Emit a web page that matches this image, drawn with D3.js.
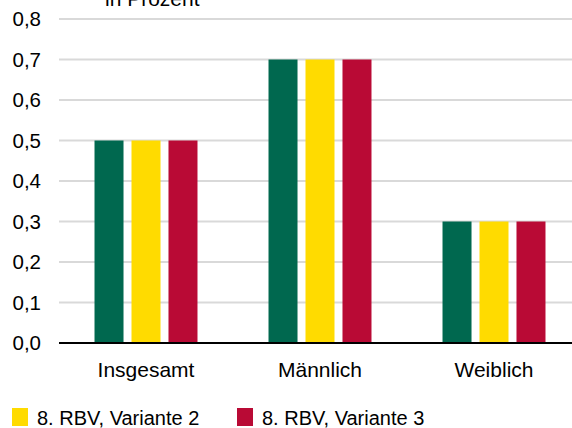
<!DOCTYPE html>
<html>
<head>
<meta charset="utf-8">
<script src="https://cdn.jsdelivr.net/npm/d3@7"></script>
<style>
  html, body { margin: 0; padding: 0; background: #fff; }
  svg { display: block; font-family: "Liberation Sans", Arial, sans-serif; }
</style>
</head>
<body>
<svg id="chart"></svg>
<script>
// data
var categories = ["Insgesamt", "Männlich", "Weiblich"];
var seriesNames = ["8. RBV, Variante 1", "8. RBV, Variante 2", "8. RBV, Variante 3"];
var seriesColors = ["#00684f", "#ffdb00", "#b90a35"];
var values = [
  [0.5, 0.7, 0.3],   // Variante 1
  [0.5, 0.7, 0.3],   // Variante 2
  [0.5, 0.7, 0.3]    // Variante 3
];
var yTicks = [0, 0.1, 0.2, 0.3, 0.4, 0.5, 0.6, 0.7, 0.8];
var legendShown = [1, 2];  // only these fit on the visible line

var width = 572, height = 428;
var svg = d3.select("#chart").attr("width", width).attr("height", height);

var x = d3.scaleBand().domain(categories).range([59, 581]).padding(0);
var xSub = d3.scaleBand().domain(seriesNames).range([0, x.bandwidth()])
    .paddingInner(0.216).paddingOuter(0.96);
var y = d3.scaleLinear().domain([0, 0.8]).range([343, 19]);

var fmt = function(d) { return d3.format(".1f")(d).replace(".", ","); };

// title (cut off at top)
svg.append("text")
    .attr("x", 105).attr("y", 6)
    .attr("font-size", "21px")
    .attr("fill", "#000")
    .text("in Prozent");

// gridlines
svg.append("g").selectAll("line")
    .data(yTicks.filter(function(d) { return d > 0; }))
    .join("line")
    .attr("x1", 59).attr("x2", width)
    .attr("y1", function(d) { return y(d); })
    .attr("y2", function(d) { return y(d); })
    .attr("stroke", "#d9d9d9")
    .attr("stroke-width", 2);

// y tick labels
svg.append("g").selectAll("text")
    .data(yTicks)
    .join("text")
    .attr("x", 41)
    .attr("y", function(d) { return y(d); })
    .attr("dy", "0.35em")
    .attr("text-anchor", "end")
    .attr("font-size", "20.5px")
    .attr("fill", "#000")
    .text(fmt);

// bars
var groups = svg.append("g").selectAll("g")
    .data(categories)
    .join("g")
    .attr("transform", function(c) { return "translate(" + x(c) + ",0)"; });

groups.selectAll("rect")
    .data(function(c, ci) {
      return seriesNames.map(function(s, si) { return { s: s, si: si, v: values[si][ci] }; });
    })
    .join("rect")
    .attr("x", function(d) { return xSub(d.s); })
    .attr("width", xSub.bandwidth())
    .attr("y", function(d) { return y(d.v); })
    .attr("height", function(d) { return y(0) - y(d.v); })
    .attr("fill", function(d) { return seriesColors[d.si]; });

// baseline axis
svg.append("line")
    .attr("x1", 59).attr("x2", width)
    .attr("y1", y(0)).attr("y2", y(0))
    .attr("stroke", "#000")
    .attr("stroke-width", 2);

// category labels
svg.append("g").selectAll("text")
    .data(categories)
    .join("text")
    .attr("x", function(c) { return x(c) + x.bandwidth() / 2; })
    .attr("y", 377)
    .attr("text-anchor", "middle")
    .attr("font-size", "21px")
    .attr("fill", "#000")
    .text(function(c) { return c; });

// legend
var legendX = [12, 237];
var legend = svg.append("g").selectAll("g")
    .data(legendShown)
    .join("g")
    .attr("transform", function(si, i) { return "translate(" + legendX[i] + ",408)"; });

legend.append("rect")
    .attr("width", 16).attr("height", 18)
    .attr("fill", function(si) { return seriesColors[si]; });

legend.append("text")
    .attr("x", 25).attr("y", 17)
    .attr("font-size", "20px")
    .attr("fill", "#000")
    .text(function(si) { return seriesNames[si]; });
</script>
</body>
</html>
